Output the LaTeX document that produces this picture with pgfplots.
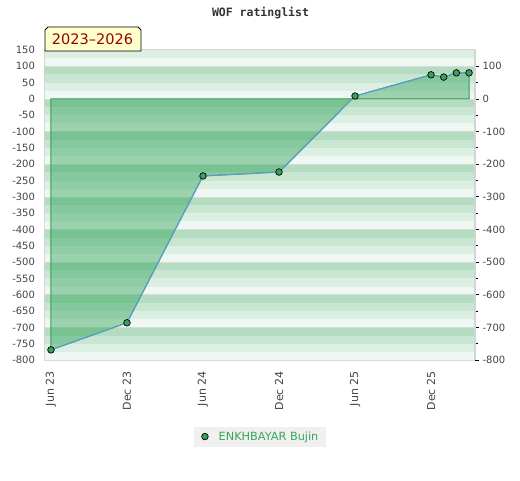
\documentclass[border=0pt]{standalone}
\usepackage{fontspec}
\setmainfont{DejaVu Sans}
\setmonofont{DejaVu Sans Mono}
\usepackage{pgfplots}
\usepackage{pgfplotstable}
\pgfplotsset{compat=1.18}

\definecolor{bandA}{HTML}{B3DCC1}
\definecolor{bandB}{HTML}{C8E6D2}
\definecolor{bandC}{HTML}{DCEFE3}
\definecolor{bandD}{HTML}{EEF7F1}
\definecolor{areaG}{HTML}{34A55D}
\definecolor{edgeG}{HTML}{3A9A5A}
\definecolor{lineB}{HTML}{5B9BD5}
\definecolor{markG}{HTML}{3A9E5F}
\definecolor{tickT}{HTML}{444444}
\definecolor{frameG}{HTML}{D4D4D4}
\definecolor{gridG}{HTML}{D6DDD8}
\definecolor{tagY}{HTML}{FFFFCC}
\definecolor{tagR}{HTML}{990000}
\definecolor{legG}{HTML}{3AA55A}

% months since Jun 2023, rating change
\pgfplotstableread{
m r
0 -769
6 -686
12 -236
18 -224
24 9
30 74
31 67
32 80
33 80
}\ratings

\pgfplotsset{
  wofbase/.style={
    at={(45pt,120pt)}, anchor=south west,
    scale only axis, width=430pt, height=310pt,
    xmin=-0.47, xmax=33.47, ymin=-800, ymax=150,
    axis line style={draw=frameG, line width=1.2pt},
    tick label style={font=\fontsize{10}{12}\selectfont, text=tickT},
    /pgf/number format/assume math mode=true,
  }
}

\begin{document}
\begin{tikzpicture}
\path[use as bounding box] (0,0) rectangle (520pt,480pt);

\begin{axis}[wofbase,
  xtick={0,6,...,30},
  xticklabels={Jun 23,Dec 23,Jun 24,Dec 24,Jun 25,Dec 25},
  xticklabel style={rotate=90, anchor=east, font=\fontsize{11}{12}\selectfont},
  xticklabel shift=8pt,
  ytick={-800,-750,...,150},
  ytick pos=left, xtick pos=bottom,
  major tick length=0pt,
  tick style={draw=none},
  yticklabel shift=6.5pt,
  legend style={at={(0.5,-0.247)}, anchor=center, fill=black!6, draw=none,
    font=\fontsize{11.3}{12}\selectfont, text=legG,
    inner xsep=7.5pt, inner ysep=5pt,
    nodes={inner sep=0pt},
    /tikz/every odd column/.append style={column sep=10.5pt}},
]
% background bands, 25 units each
\pgfplotsinvokeforeach{-800,-700,...,100}{
  \fill[bandD] (axis cs:-1,#1) rectangle (axis cs:34,{#1+25});
  \fill[bandC] (axis cs:-1,{#1+25}) rectangle (axis cs:34,{#1+50});
  \fill[bandB] (axis cs:-1,{#1+50}) rectangle (axis cs:34,{#1+75});
  \fill[bandA] (axis cs:-1,{#1+75}) rectangle (axis cs:34,{#1+100});
  \draw[gridG, line width=0.6pt] (axis cs:-1,#1) -- (axis cs:34,#1);
}

\addplot[draw=edgeG, line width=1pt, fill=areaG, fill opacity=0.45, forget plot]
  table[x=m, y=r] {\ratings} \closedcycle;

\addplot[lineB, line width=1pt, mark=*, mark size=3.3pt,
  mark options={fill=markG, draw=black, line width=0.7pt},
  legend image code/.code={\draw[##1] plot coordinates {(0pt,0pt)};}]
  table[x=m, y=r] {\ratings};
\addlegendentry{ENKHBAYAR Bujin}
\end{axis}

\begin{axis}[wofbase,
  axis x line=none, axis y line*=right,
  ytick={-800,-700,...,100},
  minor ytick={-750,-650,...,50},
  tick align=outside,
  major tick length=4pt, minor tick length=3pt,
  every tick/.style={black, line width=0.8pt},
]
\addplot[draw=none] coordinates {(0,0)};
\end{axis}

\node[font=\ttfamily\bfseries\fontsize{11.5}{12}\selectfont, text=black!80] at (260.5pt,467pt) {WOF ratinglist};

\draw[fill=tagY, line width=0.8pt] (45pt,429pt) -- (45pt,450pt) -- (48pt,453pt)
  -- (138pt,453pt) -- (141pt,450pt) -- (141pt,429pt) -- cycle;
\node[font=\fontsize{14.5}{16}\selectfont, text=tagR] at (92.5pt,440.5pt) {2023\textendash 2026};
\end{tikzpicture}
\end{document}
